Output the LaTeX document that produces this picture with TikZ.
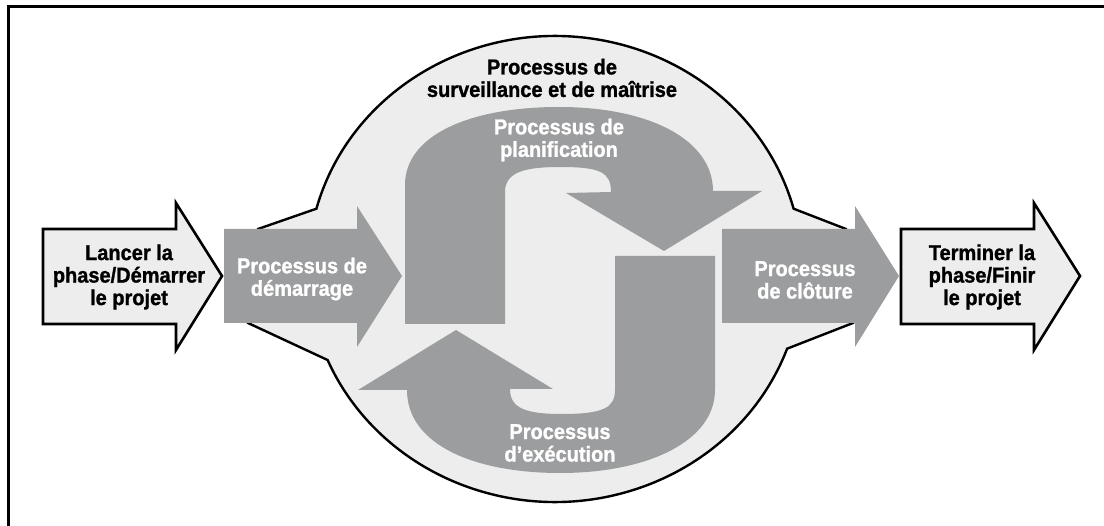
\documentclass[tikz,border=0pt]{standalone}
\usepackage{fontspec}
\setmainfont{Liberation Sans}[FakeStretch=0.93,BoldFeatures={FakeBold=1.2}]
\usepackage{xcolor}
\usetikzlibrary{positioning}
\definecolor{procgray}{HTML}{9C9D9F}
\definecolor{pale}{HTML}{ECEDEC}

\begin{document}
\begin{tikzpicture}[x=1pt,y=-1pt,line join=miter]
    \tikzstyle{gray shape}=[fill=procgray]
    \tikzstyle{phase shape}=[fill=pale,draw=black,line width=2.6pt]
    \tikzstyle{blob}=[fill=pale,draw=black,line width=2.4pt]
    \tikzstyle{txt}=[align=center,inner sep=0pt,font=\fontsize{21.5}{22.5}\selectfont\bfseries]
    \useasboundingbox (0,0) rectangle (1104,526);
    \draw[line width=3pt] (1104,7) -- (8,7) -- (8,526);
% surveillance blob
\path[blob] (258,229) -- ([shift={(555,269)}]195:247 and 233)
    arc[start angle=195,end angle=345,x radius=247,y radius=233] -- (846,229) -- (853,323)
    -- ([shift={(555,269)}]20:247 and 233)
    arc[start angle=20,end angle=157,x radius=247,y radius=233] -- (248,323) -- cycle;
% phase arrows
\path[phase shape] (43,229) -- (176,229) -- (176,203) -- (222,276) -- (176,350) -- (176,324) -- (43,324) -- cycle;
\path[phase shape] (901,229) -- (1034,229) -- (1034,203) -- (1080,276) -- (1034,350) -- (1034,324) -- (901,324) -- cycle;
% process arrows
\path[gray shape] (224,229) -- (357,229) -- (357,206) -- (402,276) -- (357,347) -- (357,323) -- (224,323) -- cycle;
\path[gray shape] (722,229) -- (855,229) -- (855,206) -- (899,276) -- (855,347) -- (855,323) -- (722,323) -- cycle;
\path[gray shape] (405,324) -- (405,185) .. controls (405,135) and (470,107) .. (559,107)
    .. controls (650,107) and (713,140) .. (713,191) -- (762,191) -- (664,251) -- (566,193) -- (611,192)
    .. controls (611,172) and (600,167) .. (560,167) .. controls (525,167) and (505,172) .. (505,192)
    -- (505,324) -- cycle;
\path[gray shape] (615,256) -- (715,256) -- (715,390) .. controls (715,440) and (650,473) .. (560,473)
    .. controls (475,473) and (407,445) .. (407,390) -- (358,390) -- (456,330) -- (553,389) -- (510,389)
    .. controls (510,408) and (525,414) .. (562,414) .. controls (603,414) and (615,408) .. (615,390) -- cycle;
% labels
\node[txt]       (lancer)       at (129,277) {Lancer la\\phase/Démarrer\\le projet};
\node[txt,white] (demarrage)    at (302,279) {Processus de\\démarrage};
\node[txt]       (surveillance) at (552,78)  {Processus de\\surveillance et de maîtrise};
\node[txt,white] (planif)       at (559,140) {Processus de\\planification};
\node[txt,white] (execution)    at (560,443) {Processus\\d’exécution};
\node[txt,white] (cloture)      at (805,280) {Processus\\de clôture};
\node[txt]       (terminer)     at (982,277) {Terminer la\\phase/Finir\\le projet};
\end{tikzpicture}
\end{document}
